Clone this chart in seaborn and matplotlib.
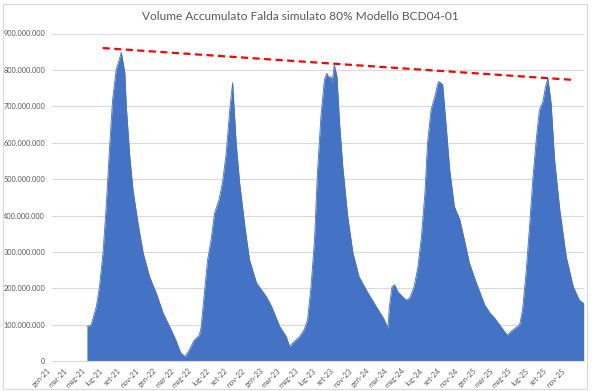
import matplotlib
matplotlib.use("Agg")
import matplotlib.pyplot as plt
import matplotlib.dates as mdates
from matplotlib.ticker import FuncFormatter
from matplotlib.patches import Rectangle
import seaborn as sns
import pandas as pd

# ---- data ----
dates = [
    "2021-05-01", "2021-05-15", "2021-06-02", "2021-06-13", "2021-06-25", "2021-07-06",
    "2021-07-17", "2021-07-28", "2021-08-09", "2021-08-27", "2021-09-08", "2021-09-13",
    "2021-09-25", "2021-10-06", "2021-10-23", "2021-11-10", "2021-12-02", "2021-12-25",
    "2022-01-17", "2022-02-09", "2022-03-02", "2022-03-19", "2022-04-03", "2022-04-17",
    "2022-05-04", "2022-05-22", "2022-05-28", "2022-06-08", "2022-06-19", "2022-07-01",
    "2022-07-13", "2022-07-28", "2022-08-09", "2022-08-22", "2022-09-03", "2022-09-13",
    "2022-09-25", "2022-10-07", "2022-10-25", "2022-11-10", "2022-12-04", "2023-01-07",
    "2023-01-25", "2023-02-22", "2023-03-16", "2023-03-28", "2023-04-07", "2023-05-01",
    "2023-05-16", "2023-05-28", "2023-06-09", "2023-06-21", "2023-07-01", "2023-07-13",
    "2023-07-25", "2023-08-02", "2023-08-10", "2023-08-16", "2023-08-20", "2023-08-28",
    "2023-09-06", "2023-09-15", "2023-09-26", "2023-10-13", "2023-10-31", "2023-11-21",
    "2023-12-22", "2024-01-19", "2024-02-13", "2024-02-28", "2024-03-04", "2024-03-13",
    "2024-03-22", "2024-04-02", "2024-04-19", "2024-05-01", "2024-05-13", "2024-05-28",
    "2024-06-10", "2024-06-22", "2024-07-04", "2024-07-13", "2024-07-25", "2024-08-07",
    "2024-08-19", "2024-08-28", "2024-09-03", "2024-09-15", "2024-09-27", "2024-10-13",
    "2024-11-01", "2024-11-19", "2024-12-04", "2024-12-28", "2025-01-25", "2025-02-12",
    "2025-03-01", "2025-03-22", "2025-04-12", "2025-05-01", "2025-05-25", "2025-06-04",
    "2025-06-16", "2025-06-28", "2025-07-10", "2025-07-22", "2025-08-01", "2025-08-13",
    "2025-08-22", "2025-08-30", "2025-09-10", "2025-09-22", "2025-10-10", "2025-11-01",
    "2025-11-25", "2025-12-16", "2025-12-31",
]
volume_mm3 = [
    96, 99, 150, 205, 297, 425,
    580, 718, 800, 848, 792, 700,
    562, 470, 380, 297, 232, 187,
    133, 95, 58, 23, 13, 31,
    58, 72, 95, 187, 278, 333,
    407, 443, 490, 572, 690, 765,
    600, 490, 370, 278, 215, 177,
    150, 95, 68, 40, 50, 68,
    86, 113, 205, 333, 517, 672,
    773, 791, 778, 782, 764, 814,
    782, 654, 535, 397, 297, 232,
    187, 150, 118, 91, 150, 205,
    210, 191, 177, 168, 174, 205,
    260, 342, 462, 600, 690, 727,
    768, 764, 759, 645, 526, 425,
    388, 324, 269, 214, 155, 133,
    118, 95, 72, 86, 100, 141,
    242, 370, 507, 617, 690, 713,
    754, 777, 709, 553, 415, 287,
    205, 168, 159,
]  # millions of m3

trend_dates = ["2021-06-24", "2025-11-18"]
trend_mm3 = [860, 773]

y_ticks = [0, 100e6, 200e6, 300e6, 400e6, 500e6, 600e6, 700e6, 800e6, 900e6]
x_tick_labels = [
    "gen-21", "mar-21", "mag-21", "lug-21", "set-21", "nov-21",
    "gen-22", "mar-22", "mag-22", "lug-22", "set-22", "nov-22",
    "gen-23", "mar-23", "mag-23", "lug-23", "set-23", "nov-23",
    "gen-24", "mar-24", "mag-24", "lug-24", "set-24", "nov-24",
    "gen-25", "mar-25", "mag-25", "lug-25", "set-25", "nov-25",
]
title = "Volume Accumulato Falda simulato 80% Modello BCD04-01"

# ---- build frames ----
df = pd.DataFrame({"data": pd.to_datetime(dates),
                   "volume": [v * 1e6 for v in volume_mm3]})
tr = pd.DataFrame({"data": pd.to_datetime(trend_dates),
                   "volume": [v * 1e6 for v in trend_mm3]})
tick_dates = pd.date_range("2021-01-01", periods=len(x_tick_labels), freq="2MS")

sns.set_style("white")
plt.rcParams["font.family"] = ["Lato", "DejaVu Sans"]

fig = plt.figure(figsize=(6.0, 3.91), dpi=100)
ax = fig.add_axes([52 / 600, 29.7 / 391, 532 / 600, 327.8 / 391])

blue = "#4472C4"
grey_txt = "#595959"

ax.fill_between(df["data"], df["volume"], 0, color=blue, linewidth=0, zorder=2)
sns.lineplot(data=df, x="data", y="volume", ax=ax, color=blue, linewidth=0.6, zorder=3)
sns.lineplot(data=tr, x="data", y="volume", ax=ax, color="#FF0000", linewidth=1.6,
             dashes=False, zorder=4)
ax.lines[-1].set_dashes((3.2, 2.0))

ax.set_xlim(pd.Timestamp("2021-01-01"), pd.Timestamp("2026-01-01"))
ax.set_ylim(0, 900e6)
ax.set_yticks(y_ticks)
ax.yaxis.set_major_formatter(FuncFormatter(lambda v, p: f"{int(round(v)):,}".replace(",", ".")))
ax.set_xticks(tick_dates)
ax.set_xticklabels(x_tick_labels, rotation=45, ha="right", va="top")

ax.grid(axis="y", color="#D9D9D9", linewidth=0.8, zorder=0)
ax.grid(axis="x", visible=False)
ax.set_axisbelow(True)
for s in ["top", "right", "left"]:
    ax.spines[s].set_visible(False)
ax.spines["bottom"].set_color("#D9D9D9")
ax.spines["bottom"].set_linewidth(0.8)

ax.tick_params(axis="y", length=0, labelsize=5.3, labelcolor=grey_txt, pad=5)
ax.tick_params(axis="x", length=3, width=0.6, color="#BFBFBF", direction="out",
               labelsize=5.3, labelcolor=grey_txt, pad=1)
ax.set_xlabel("")
ax.set_ylabel("")

fig.text(0.5, 1 - 17 / 391, title, ha="center", va="center", fontsize=8.6, color=grey_txt)

fig.patches.append(Rectangle((3 / 600, 2 / 391), 584 / 600, 385 / 391, transform=fig.transFigure,
                             fill=False, edgecolor="#D9D9D9", linewidth=0.8))

fig.savefig("out.png", dpi=100)
